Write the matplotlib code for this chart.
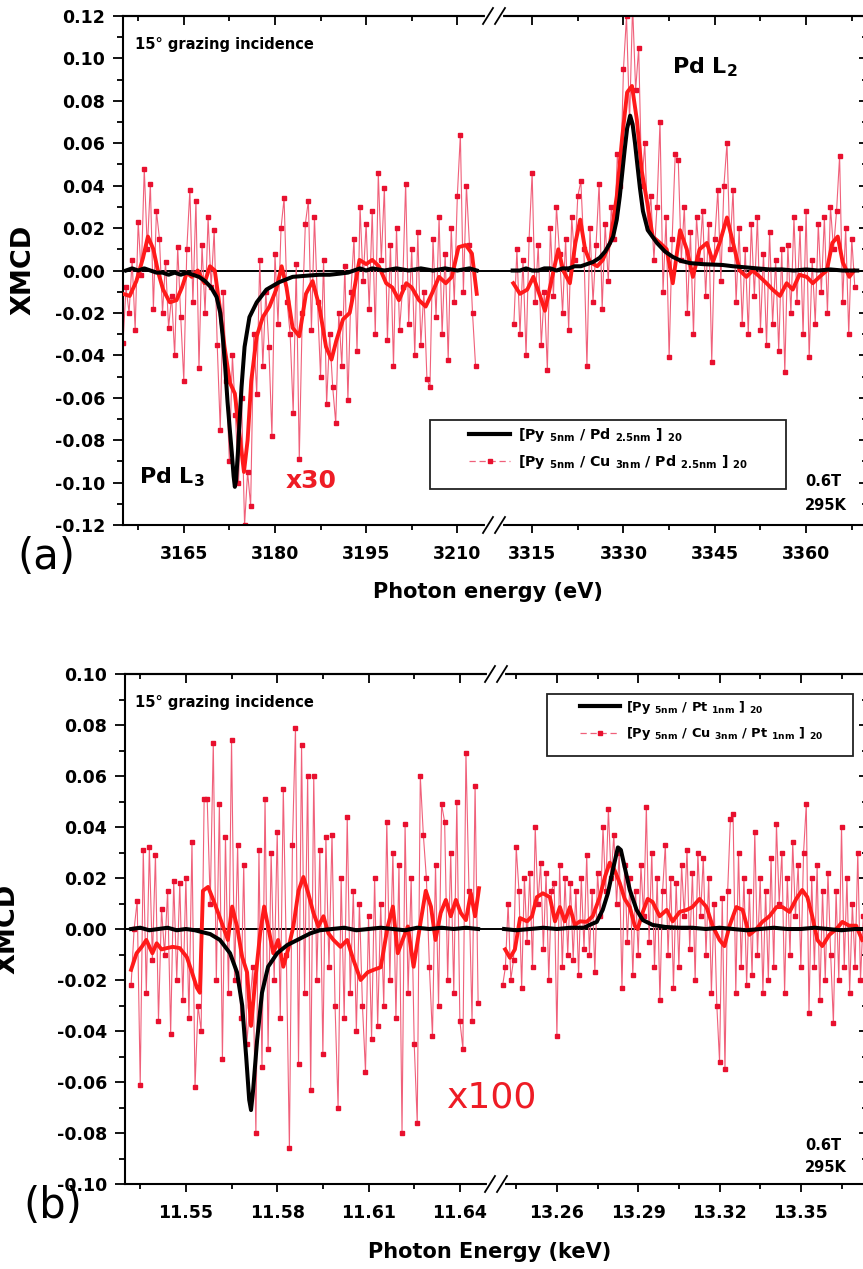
import numpy as np
import matplotlib
matplotlib.use("Agg")
import matplotlib.pyplot as plt
from matplotlib.lines import Line2D
from matplotlib.patches import Rectangle
from matplotlib.ticker import FormatStrFormatter

plt.rcParams['font.family'] = ['DejaVu Sans']
plt.rcParams['font.weight'] = 'bold'
plt.rcParams['axes.unicode_minus'] = False
plt.rcParams['mathtext.fontset'] = 'dejavusans'

W, H = 863, 1269  # output size in pixels (dpi 100)

# ---------------- panel (a): Pd L3 / L2 edges, photon energy in eV ----------------
# XMCD values are in units of 1e-3
# x30 Cu-spacer sample, raw points on a 0.5 eV grid
a_left_grid = (3155.0, 3213.0)
a_left_raw = [-34, -8, -20, 5, -28, 23, -2, 48, 10, 41,
              -18, 28, 15, -20, 4, -27, -12, -40, 11, -22,
              -52, 10, 38, -15, 33, -46, 12, -20, 25, -8,
              19, -35, -75, -10, -52, -90, -40, -68, -100, -60,
              -120, -95, -111, -30, -58, 5, -45, -10, -36, -78,
              8, -25, 20, 34, -15, -30, -67, 3, -89, -20,
              22, 33, -28, 25, -15, -50, 5, -63, -30, -55,
              -72, -20, -45, 2, -61, -10, 15, -38, 30, -5,
              22, -18, 28, -30, 46, 5, 39, -33, 12, -45,
              20, -28, -8, 41, -25, 10, -40, 18, -35, -10,
              -51, -55, 15, -22, 25, -30, 8, -42, 20, -15,
              35, 64, -10, 40, 12, -20, -45]
a_right_grid = (3312.0, 3368.0)
a_right_raw = [-25, 10, -30, 5, -40, 15, 46, -15, 12, -35,
               -10, -47, 20, -12, 30, 8, -20, 15, -28, 25,
               5, 35, 42, 10, -45, 20, -15, 12, 41, -18,
               22, -5, 30, 15, 55, 40, 95, 120, 70, 125,
               85, 105, 40, 60, 20, 35, 5, 30, 70, -10,
               25, -41, 15, 55, 52, 5, 30, -20, 18, -30,
               25, 5, 28, -12, 22, -43, 15, 38, -5, 40,
               60, 10, 38, -15, 20, -25, 10, -30, 22, -12,
               25, -28, 8, -35, 18, -25, 5, -38, 10, -48,
               12, -20, 25, -15, 20, -30, 28, -41, 5, -25,
               22, -10, 25, -20, 30, 10, 28, 54, -15, 20,
               -30, 15, -8]

# smoothed x30 curve
a_left_smooth_e = [3155.0, 3156.1, 3157.2, 3158.3, 3159.1, 3160.0, 3160.8, 3161.6, 3162.7, 3163.8,
                   3164.7, 3165.5, 3166.3, 3167.3, 3168.4, 3169.3, 3170.1, 3170.9, 3171.7, 3172.6,
                   3173.4, 3174.2, 3174.9, 3175.5, 3176.1, 3177.0, 3178.0, 3179.1, 3180.2, 3181.1,
                   3181.9, 3182.9, 3184.0, 3185.1, 3186.2, 3187.3, 3188.4, 3189.3, 3190.1, 3191.2,
                   3192.3, 3193.1, 3193.9, 3195.0, 3196.0, 3197.1, 3198.3, 3199.3, 3200.4, 3201.6,
                   3202.5, 3203.7, 3204.8, 3205.8, 3207.0, 3208.1, 3209.1, 3210.2, 3211.4, 3212.4,
                   3213.2]
a_left_smooth = [-11, -12, -5, 6, 16, 10, -1, -9, -15, -14,
                 -8, -1, -3, 0, -6, 2, 0, -17, -36, -53,
                 -58, -78, -95, -80, -52, -31, -22, -17, -9, 2,
                 -8, -27, -31, -11, -5, -17, -36, -42, -33, -23,
                 -20, -8, 5, 3, 5, 2, -6, -8, -14, -6,
                 -8, -14, -17, -11, -3, -6, -3, 11, 12, 8,
                 -11]
a_right_smooth_e = [3311.9, 3313.0, 3314.2, 3315.2, 3316.3, 3317.1, 3318.3, 3319.3, 3320.1, 3321.2,
                    3322.1, 3322.9, 3323.7, 3324.5, 3325.7, 3326.6, 3327.8, 3328.9, 3329.8, 3330.6,
                    3331.4, 3332.2, 3333.0, 3333.9, 3334.8, 3336.0, 3337.1, 3338.1, 3339.3, 3340.4,
                    3341.4, 3342.5, 3343.7, 3344.7, 3345.8, 3347.0, 3348.0, 3349.1, 3350.2, 3351.2,
                    3352.4, 3353.5, 3354.5, 3355.7, 3356.8, 3357.8, 3358.9, 3360.1, 3361.1, 3362.2,
                    3363.4, 3364.3, 3365.2, 3366.0, 3367.1, 3367.9]
a_right_smooth = [-6, -11, -9, -3, -12, -19, -3, 10, 0, -6,
                  13, 24, 10, 4, 2, 5, 13, 35, 63, 84,
                  87, 71, 47, 32, 16, 13, 10, -6, 19, 10,
                  -3, 10, 13, 4, 13, 25, 13, 0, -3, 0,
                  -3, -6, -9, -12, -6, -9, -2, -3, -6, -3,
                  0, 13, 16, 4, -3, 0]

# reference sample [Py/Pd]20 (black)
a_left_ref_e = [3155.5, 3156.5, 3157.5, 3158.5, 3159.5, 3160.5, 3161.5, 3162.5, 3163.5, 3164.5,
                3165.5, 3166.5, 3167.5, 3168.5, 3169.5, 3170.4, 3171.0, 3171.4, 3171.8, 3172.2,
                3172.6, 3172.9, 3173.2, 3173.4, 3173.6, 3173.9, 3174.2, 3174.5, 3175.0, 3175.8,
                3177.0, 3178.6, 3180.7, 3182.9, 3185.0, 3187.3, 3189.0, 3190.6, 3192.0, 3193.0,
                3194.0, 3195.0, 3196.0, 3198.0, 3200.0, 3202.0, 3204.0, 3206.0, 3208.0, 3210.0,
                3212.0, 3213.2]
a_left_ref = [0, 1, 0, 1, 0, -1, -1, -2, -1, -2,
              -1, -2, -3, -5, -8, -12.5, -20, -31, -45, -62,
              -76, -86, -97, -102, -99, -86, -70, -55, -36, -22,
              -15, -9, -5.5, -3, -2.5, -2, -2, -1.5, -1, 0,
              1, 0, 1, 0, 1, 0, 1, 0, 1, 0,
              1, 0]
a_right_ref_e = [3311.8, 3313.0, 3314.0, 3315.0, 3316.0, 3317.0, 3318.0, 3319.0, 3320.0, 3321.0,
                 3322.0, 3323.0, 3324.0, 3325.0, 3326.1, 3327.0, 3327.8, 3328.3, 3328.9, 3329.4,
                 3329.8, 3330.2, 3330.6, 3331.1, 3331.5, 3331.9, 3332.2, 3332.7, 3333.2, 3334.0,
                 3335.5, 3336.8, 3338.1, 3339.5, 3340.9, 3343.0, 3346.3, 3348.0, 3350.0, 3351.9,
                 3354.0, 3356.0, 3358.0, 3360.0, 3362.0, 3364.0, 3366.0, 3368.4]
a_right_ref = [0, 0, 1, 0, 0, 1, 1, 0, 1, 1,
               2, 2, 3, 4, 6, 9, 13, 16, 24, 35,
               46, 57, 67, 73, 69, 60, 52, 39, 28, 19,
               13, 9, 6.4, 4.5, 3.5, 3, 2.6, 2, 1.5, 1,
               0.5, 0.5, 0, 0.5, 0, 0.5, 0, 0]

# ---------------- panel (b): Pt L3 / L2 edges, photon energy in keV ----------------
# x100 Cu-spacer sample, raw points on a 1 eV grid
b_left_grid = (11.532, 11.646)
b_left_raw = [-22, 0, 11, -61, 31, -25, 32, -12, 29, -36,
              8, -10, 15, -41, 19, -20, 18, -28, 20, -35,
              34, -62, -30, -40, 51, 51, 10, 73, -20, 49,
              -51, 36, -25, 74, -20, 33, -35, 25, -45, -30,
              -15, -80, 31, -54, 51, -47, 30, -20, 38, -35,
              55, -10, -86, 33, 79, -53, 72, -25, 60, -63,
              60, -20, 31, -49, 36, -15, 37, -30, -70, 20,
              -35, 44, -25, 15, -40, 10, -30, -56, 5, -43,
              20, -38, 10, -30, 42, -20, 30, -35, 25, -80,
              41, -25, 20, -45, -76, 60, 37, 20, -15, -42,
              25, -30, 49, 42, -20, 30, -25, 50, -36, -47,
              69, 15, -36, 56, -29]
b_right_grid = (13.240, 13.373)
b_right_raw = [-22, -15, 10, -20, -12, 32, 15, -23, 20, -5,
               22, -15, 40, 10, 26, -8, 22, -20, 15, 18,
               -42, 25, -15, 20, -10, 18, -12, 15, -18, 20,
               -8, 29, -10, 15, -17, 22, 5, 40, 15, 47,
               20, 37, 10, 30, -23, 25, -5, 20, -18, 15,
               -10, 25, 5, 48, -5, 30, -15, 20, -28, 15,
               33, -10, 20, -23, 18, -15, 25, 5, 31, -8,
               22, -20, 30, 5, 28, -10, 20, -25, 10, -30,
               -52, 12, -55, 15, 43, 45, -25, 30, -15, 20,
               -22, 15, -18, 38, -10, 20, -25, 15, -20, 28,
               -15, 41, 10, 30, -25, 20, -10, 34, 5, 25,
               -15, 30, 49, -33, 20, -15, 25, -28, 15, -20,
               22, -10, -37, 15, -20, 40, -15, 20, -25, 10,
               -15, 30, -20, 5]

b_left_smooth_e = [11.532, 11.5338, 11.5355, 11.537, 11.539, 11.5404, 11.542, 11.5437, 11.5457, 11.548,
                   11.5503, 11.552, 11.5536, 11.5546, 11.5556, 11.5573, 11.559, 11.5606, 11.5622, 11.5638,
                   11.5652, 11.5668, 11.5685, 11.5701, 11.5714, 11.5728, 11.5744, 11.5757, 11.577, 11.5787,
                   11.5803, 11.582, 11.5836, 11.5853, 11.587, 11.5886, 11.5902, 11.5919, 11.5935, 11.5952,
                   11.5968, 11.5985, 11.6008, 11.603, 11.605, 11.6074, 11.6097, 11.6117, 11.614, 11.6163,
                   11.618, 11.6196, 11.6212, 11.6229, 11.6248, 11.6272, 11.6288, 11.6305, 11.632, 11.6337,
                   11.6354, 11.637, 11.6387, 11.6403, 11.642, 11.6436, 11.645, 11.6463]
b_left_smooth = [-16, -9.5, -7, -4.3, -9.5, -5.6, -8, -7.5, -7, -7.5,
                 -11, -17, -23, -25, 15, 16.5, 11.4, 6.3, 1, -4.3,
                 8.8, 1, -11, -17, -38, -20, -1.7, 8.8, 1, -9.5,
                 -4.3, -14.8, -8, 1, 15, 20.4, 14, 6.3, 1, 5,
                 -1.7, -4.3, -7, -4.3, -12, -20, -17, -16, -15, 1,
                 8.8, -9.5, -4.3, 1, -14.8, 3.5, 15, 8.8, -4.3, 6.3,
                 11.4, 5, 11.4, 6.3, 3.5, 14, 5, 16]
b_right_smooth_e = [13.2409, 13.2427, 13.2445, 13.2464, 13.249, 13.2508, 13.2526, 13.2548, 13.2574, 13.2593,
                    13.2611, 13.2629, 13.2648, 13.2666, 13.2685, 13.271, 13.2732, 13.2758, 13.2777, 13.2795,
                    13.2813, 13.2832, 13.285, 13.2869, 13.2887, 13.2898, 13.2917, 13.2935, 13.2953, 13.2979,
                    13.3005, 13.3027, 13.3053, 13.3079, 13.31, 13.3126, 13.3152, 13.3174, 13.32, 13.3218,
                    13.3237, 13.3262, 13.3285, 13.331, 13.3336, 13.3358, 13.3384, 13.341, 13.3432, 13.3458,
                    13.3483, 13.3505, 13.3524, 13.3542, 13.3561, 13.3579, 13.3605, 13.3631, 13.3653, 13.3678,
                    13.3704, 13.3726]
b_right_smooth = [-8, -11.3, -8, 4.3, 3, 5, 12.5, 14, 12.5, 3,
                  8.6, 3, 8.6, 1.6, 3, 2.8, 5, 12.5, 20.4, 26,
                  23, 18, 11.8, 8.6, 1.3, 0, 6.7, 11.8, 10.6, 5,
                  7.5, 3, 6.7, 7.5, 8.6, 11.8, 8.6, 1.3, -4.3, -6.7,
                  1.3, 8.6, 7.5, -2.3, 0, 2.8, 5, 8.6, 8.6, 6.7,
                  11.8, 15.3, 12.5, 5, -4.3, -6.7, -2.3, 0, 2.8, 1.3,
                  1.3, -4.3]

b_left_ref_e = [11.532, 11.535, 11.538, 11.541, 11.544, 11.547, 11.550, 11.553, 11.5546, 11.558,
                11.5612, 11.5645, 11.5668, 11.5685, 11.5698, 11.5708, 11.5714, 11.5721, 11.5734, 11.575,
                11.577, 11.580, 11.5833, 11.5866, 11.5909, 11.594, 11.598, 11.602, 11.606, 11.610,
                11.614, 11.618, 11.622, 11.626, 11.630, 11.634, 11.638, 11.642, 11.646]
b_left_ref = [0, 0.5, -0.5, 0, 0.5, -0.5, 0, -0.5, -1, -2,
              -4.3, -9.5, -17, -30, -50, -67, -71, -63, -43.5, -25,
              -14.8, -9.5, -6.3, -4.3, -1.7, -0.5, 0, 0.5, -0.5, 0,
              0.5, 0, -0.5, 0.5, 0, 0.5, 0, 0.5, 0]
b_right_ref_e = [13.2405, 13.245, 13.250, 13.255, 13.260, 13.265, 13.270, 13.2721, 13.2747, 13.2769,
                 13.2788, 13.2806, 13.2825, 13.2836, 13.285, 13.2869, 13.2894, 13.2917, 13.2953, 13.300,
                 13.305, 13.310, 13.315, 13.320, 13.325, 13.330, 13.335, 13.340, 13.345, 13.350,
                 13.355, 13.360, 13.365, 13.370, 13.373]
b_right_ref = [0, -0.5, 0, 0.5, 0, 0.5, 0.5, 1.6, 2.8, 7.5,
               14, 23, 32, 31, 24.3, 15.3, 7.5, 3.5, 1.6, 0.8,
               0.5, 0.5, 0, 0.5, 0, -0.5, 0, 0.5, 0, 0,
               0.5, 0, -0.5, 0, 0]

# legend labels
a_labels = [r'[Py $_{\mathbf{5nm}}$ / Pd $_{\mathbf{2.5nm}}$ ] $_{\mathbf{20}}$',
            r'[Py $_{\mathbf{5nm}}$ / Cu $_{\mathbf{3nm}}$ / Pd $_{\mathbf{2.5nm}}$ ] $_{\mathbf{20}}$']
b_labels = [r'[Py $_{\mathbf{5nm}}$ / Pt $_{\mathbf{1nm}}$ ] $_{\mathbf{20}}$',
            r'[Py $_{\mathbf{5nm}}$ / Cu $_{\mathbf{3nm}}$ / Pt $_{\mathbf{1nm}}$ ] $_{\mathbf{20}}$']

RED_THIN = '#f0607a'
RED_MARK = '#e8102e'
RED_THICK = '#ff1a1a'


def px_box(x0, x1, y0, y1):
    """axes rectangle from pixel edges, y measured from the top"""
    return [x0 / W, 1 - y1 / H, (x1 - x0) / W, (y1 - y0) / H]


def fxy(x, y):
    return x / W, 1 - y / H


def plot_segment(ax, grid, raw, sm_e, sm, ref_e, ref):
    e = np.linspace(grid[0], grid[1], len(raw))
    ax.axhline(0, color='black', lw=1.4, zorder=1)
    ax.plot(e, np.array(raw) / 1000, color=RED_THIN, lw=0.8, marker='s', ms=2.2,
            mfc=RED_MARK, mec=RED_MARK, zorder=2)
    ax.plot(sm_e, np.array(sm) / 1000, color=RED_THICK, lw=2.8, zorder=3)
    ax.plot(ref_e, np.array(ref) / 1000, color='black', lw=2.9, zorder=4)


def style_pair(ax_l, ax_r, xlim_l, xlim_r, maj_l, maj_r, min_l, min_r, ylim, ystep, xfmt):
    ymaj = np.round(np.arange(ylim[0], ylim[1] + 1e-9, ystep), 2) + 0.0
    ymin = np.round(np.arange(ylim[0], ylim[1] + 1e-9, ystep / 2), 3)
    for ax, xlim, maj, mnr in ((ax_l, xlim_l, maj_l, min_l), (ax_r, xlim_r, maj_r, min_r)):
        ax.set_xlim(*xlim)
        ax.set_ylim(*ylim)
        ax.set_xticks(maj)
        ax.set_xticks(mnr, minor=True)
        ax.xaxis.set_major_formatter(FormatStrFormatter(xfmt))
        ax.set_yticks(ymaj)
        ax.set_yticks(ymin, minor=True)
        ax.tick_params(axis='x', which='both', direction='out', width=1.3, labelsize=12.5, pad=9)
        ax.tick_params(axis='x', which='major', length=5.5)
        ax.tick_params(axis='x', which='minor', length=3.5)
        for sp in ax.spines.values():
            sp.set_linewidth(1.5)
        top = ax.secondary_xaxis('top')
        top.set_xticks(maj)
        top.set_xticks(mnr, minor=True)
        top.tick_params(which='both', direction='in', labeltop=False, width=1.3)
        top.tick_params(which='major', length=6.5)
        top.tick_params(which='minor', length=3.5)
        top.spines['top'].set_linewidth(1.5)
    ax_l.spines['right'].set_visible(False)
    ax_l.yaxis.set_major_formatter(FormatStrFormatter('%.2f'))
    ax_l.tick_params(axis='y', which='both', direction='out', right=False, width=1.3,
                     labelsize=12.5, pad=6)
    ax_l.tick_params(axis='y', which='major', length=7)
    ax_l.tick_params(axis='y', which='minor', length=4)
    ax_r.spines['left'].set_visible(False)
    ax_r.yaxis.tick_right()
    ax_r.tick_params(axis='y', which='both', direction='in', left=False, labelright=False,
                     width=1.3)
    ax_r.tick_params(axis='y', which='major', length=6)
    ax_r.tick_params(axis='y', which='minor', length=3.5)


def break_marks(fig, xpx, ytop, ybot):
    for y in (ytop, ybot):
        fig.add_artist(Line2D([(xpx - 7) / W, (xpx + 7) / W], [1 - y / H, 1 - y / H],
                              color='white', lw=3, zorder=5))
        for dx in (-6, 6):
            fig.add_artist(Line2D([(xpx + dx - 5) / W, (xpx + dx + 5) / W],
                                  [1 - (y + 8) / H, 1 - (y - 8) / H],
                                  color='black', lw=1.3, zorder=6))


fig = plt.figure(figsize=(W / 100, H / 100), dpi=100)

# ---------- panel (a) ----------
axa_l = fig.add_axes(px_box(123, 495, 16, 525))
axa_r = fig.add_axes(px_box(495, 867, 16, 525))
plot_segment(axa_l, a_left_grid, a_left_raw, a_left_smooth_e, a_left_smooth, a_left_ref_e, a_left_ref)
plot_segment(axa_r, a_right_grid, a_right_raw, a_right_smooth_e, a_right_smooth, a_right_ref_e, a_right_ref)
style_pair(axa_l, axa_r, (3155.0, 3216.2), (3308.9, 3370.0),
           [3165, 3180, 3195, 3210], [3315, 3330, 3345, 3360],
           [3157.5, 3172.5, 3187.5, 3202.5], [3322.5, 3337.5, 3352.5, 3367.5],
           (-0.12, 0.12), 0.02, '%d')
break_marks(fig, 494, 16, 525)

# ---------- panel (b) ----------
axb_l = fig.add_axes(px_box(125, 497, 674, 1184))
axb_r = fig.add_axes(px_box(497, 867, 674, 1184))
plot_segment(axb_l, b_left_grid, b_left_raw, b_left_smooth_e, b_left_smooth, b_left_ref_e, b_left_ref)
plot_segment(axb_r, b_right_grid, b_right_raw, b_right_smooth_e, b_right_smooth, b_right_ref_e, b_right_ref)
style_pair(axb_l, axb_r, (11.530, 11.6522), (13.2379, 13.3744),
           [11.55, 11.58, 11.61, 11.64], [13.26, 13.29, 13.32, 13.35],
           [11.535, 11.565, 11.595, 11.625], [13.245, 13.275, 13.305, 13.335, 13.365],
           (-0.10, 0.10), 0.02, '%.2f')
break_marks(fig, 496, 674, 1184)

# ---------- legends ----------
h_ref = Line2D([], [], color='black', lw=3)
h_cu = Line2D([], [], color=RED_THIN, lw=0.9, ls=(0, (5, 3)), marker='s', ms=3,
              mfc=RED_MARK, mec=RED_MARK)
fig.legend([h_ref, h_cu], a_labels, loc='upper left', bbox_to_anchor=fxy(469, 426),
           frameon=False, fontsize=10.3, handlelength=2.9, handletextpad=0.5,
           labelspacing=0.65, borderpad=0, borderaxespad=0, numpoints=1)
fig.add_artist(Rectangle(fxy(430, 489), 356 / W, 69 / H, transform=fig.transFigure,
                         fill=False, ec='#222222', lw=1.3))
fig.legend([h_ref, h_cu], b_labels, loc='upper left', bbox_to_anchor=fxy(580, 699),
           frameon=False, fontsize=9.4, handlelength=3.1, handletextpad=0.45,
           labelspacing=0.7, borderpad=0, borderaxespad=0, numpoints=1)
fig.add_artist(Rectangle(fxy(547, 756), 306 / W, 62 / H, transform=fig.transFigure,
                         fill=False, ec='#222222', lw=1.3))

# ---------- annotations ----------
for yc in (45, 702):
    fig.text(*fxy(135, yc), '15° grazing incidence', fontsize=10.5, va='center')
fig.text(*fxy(672, 67), r'Pd L$_{\mathbf{2}}$', fontsize=16, va='center')
fig.text(*fxy(139, 477), r'Pd L$_{\mathbf{3}}$', fontsize=16, va='center')
fig.text(*fxy(286, 481), 'x30', fontsize=18, color='#ee1c25', va='center')
fig.text(*fxy(447, 1098), 'x100', fontsize=26, color='#ee1c25', va='center',
         fontweight='normal')
for y1, y2 in ((482, 505), (1146, 1168)):
    fig.text(*fxy(805, y1), '0.6T', fontsize=10.5, va='center')
    fig.text(*fxy(805, y2), '295K', fontsize=10.5, va='center')
fig.text(*fxy(46, 557), '(a)', fontsize=30, fontweight='normal', ha='center', va='center')
fig.text(*fxy(53, 1206), '(b)', fontsize=30, fontweight='normal', ha='center', va='center')
fig.text(*fxy(23, 270), 'XMCD', fontsize=19.5, rotation=90, ha='center', va='center')
fig.text(*fxy(7, 929), 'XMCD', fontsize=19.5, rotation=90, ha='center', va='center')
fig.text(*fxy(488, 592), 'Photon energy (eV)', fontsize=15, ha='center', va='center')
fig.text(*fxy(490, 1252), 'Photon Energy (keV)', fontsize=15, ha='center', va='center')

fig.savefig('out.png', dpi=100)
